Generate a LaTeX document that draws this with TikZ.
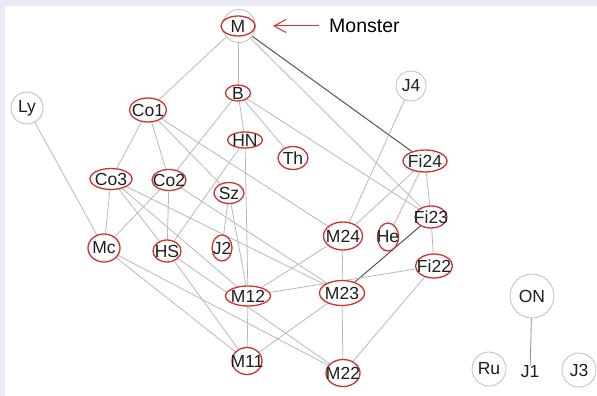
\documentclass[tikz,border=0pt]{standalone}
\usepackage{fontspec}
\setmainfont{Liberation Sans}
\usetikzlibrary{shapes.geometric,arrows.meta}
\definecolor{framebg}{RGB}{232,234,246}
\definecolor{famred}{RGB}{204,51,51}
\definecolor{ringgray}{RGB}{190,190,190}
\definecolor{edgegray}{RGB}{185,185,185}
\definecolor{edgemid}{RGB}{140,140,140}
\definecolor{edgedark}{RGB}{85,85,85}
\definecolor{labeltext}{RGB}{30,30,30}
\pgfdeclarelayer{canvas}
\pgfdeclarelayer{edges}
\pgfsetlayers{canvas,edges,main}
\begin{document}
\begin{tikzpicture}[x=1pt,y=-1pt,
  lbl/.style={font=\fontsize{17.5}{20}\selectfont, text=labeltext, inner sep=0pt},
  fam/.style n args={3}{ellipse, draw=famred, line width=1.3pt, fill=white,
    inner sep=0pt, minimum width=#1pt, minimum height=#2pt,
    label={[lbl]center:#3}},
  pariah/.style={circle, draw=ringgray, line width=0.8pt, fill=white,
    inner sep=0pt, minimum size=#1pt, font=\fontsize{17.5}{20}\selectfont, text=labeltext},
  link/.style={draw=edgegray, line width=0.8pt},
  strong/.style={draw=edgedark, line width=1pt},
]
% canvas with the tinted frame along the top and left
\begin{pgfonlayer}{canvas}
  \fill[framebg] (0,0) rectangle (597,396);
  \fill[white] (5,6) rectangle (597,396);
\end{pgfonlayer}
\useasboundingbox (0,0) rectangle (597,396);

% Monster with its grey ring
\node[pariah=33] (Mring) at (239,26) {};
\node[fam={34}{20}{M}] (M) at (238,26) {};

% happy family
\node[fam={25}{16}{B}]    (B)    at (238,93) {};
\node[fam={37}{24}{Co1}]  (Co1)  at (148,110) {};
\node[fam={35}{16}{HN}]   (HN)   at (245,140) {};
\node[fam={30}{23}{Th}]   (Th)   at (293,158) {};
\node[fam={42}{21}{Co3}]  (Co3)  at (111,179) {};
\node[fam={34}{21}{Co2}]  (Co2)  at (169,180) {};
\node[fam={30}{21}{Sz}]   (Sz)   at (229,193) {};
\node[fam={44}{22}{Fi24}] (Fi24) at (425,161) {};
\node[fam={32}{22}{Fi23}] (Fi23) at (431,217) {};
\node[fam={32}{28}{Mc}]   (Mc)   at (104,248) {};
\node[fam={28}{22}{HS}]   (HS)   at (167,251) {};
\node[fam={20}{26}{J2}]   (J2)   at (222,248) {};
\node[fam={39}{28}{M24}]  (M24)  at (343,236) {};
\node[fam={21}{28}{He}]   (He)   at (388,237) {};
\node[fam={37}{24}{Fi22}] (Fi22) at (434,266) {};
\node[fam={45}{20}{M12}]  (M12)  at (248,296) {};
\node[fam={45}{25}{M23}]  (M23)  at (342,293) {};
\node[fam={30}{27}{M11}]  (M11)  at (247,361) {};
\node[fam={34}{27}{M22}]  (M22)  at (343,373) {};

% pariahs
\node[pariah=32] (Ly) at (27,108) {Ly};
\node[pariah=30] (J4) at (411,86) {J4};
\node[pariah=44] (ON) at (532,296) {ON};
\node[lbl]       (J1) at (530,372) {J1};
\node[pariah=34] (Ru) at (489,369) {Ru};
\node[pariah=34] (J3) at (579,370) {J3};

% callout
\node[anchor=west, inner sep=0pt, font=\fontsize{19.5}{22}\selectfont, text=black]
  (monster) at (329,26) {Monster};
\coordinate (arrowtip) at (273,26);
\draw[famred, line width=1pt, -{Straight Barb[length=12pt,width=13pt]}]
  ([xshift=-10pt]monster.west) -- (arrowtip);

\begin{pgfonlayer}{edges}
  \draw[strong] (M) -- (Fi24);
  \draw[strong] (Fi23) -- (M23);
  \draw[link] (M) -- (Co1);
  \draw[link] (M) -- (B);
  \draw[link] (M) -- (Fi23);
  \draw[link] (B) -- (HN);
  \draw[link] (B) -- (Th);
  \draw[link] (B) -- (Co2);
  \draw[link] (B) -- (Fi23);
  \draw[link] (Co1) -- (Co3);
  \draw[link] (Co1) -- (Co2);
  \draw[link] (Co1) -- (Sz);
  \draw[link] (Co1) -- (M24);
  \draw[link] (Co3) -- (Mc);
  \draw[link] (Co3) -- (HS);
  \draw[link] (Co3) -- (M12);
  \draw[link] (Co3) -- (M23);
  \draw[link] (Co2) -- (Mc);
  \draw[link] (Co2) -- (HS);
  \draw[link] (Co2) -- (M23);
  \draw[link] (HN) -- (HS);
  \draw[link] (HN) -- (M12);
  \draw[link] (Sz) -- (J2);
  \draw[link] (Sz) -- (M12);
  \draw[link] (Ly) -- (Mc);
  \draw[link] (J4) -- (M24);
  \draw[link] (Fi24) -- (M24);
  \draw[link] (Fi24) -- (He);
  \draw[link] (Fi24) -- (Fi23);
  \draw[link] (Fi23) -- (Fi22);
  \draw[link] (Fi22) -- (M12);
  \draw[link] (Fi22) -- (M22);
  \draw[link] (M24) -- (M12);
  \draw[link] (M24) -- (M23);
  \draw[link] (M23) -- (M11);
  \draw[link] (M23) -- (M22);
  \draw[link] (Mc) -- (M11);
  \draw[link] (Mc) -- (M22);
  \draw[link] (HS) -- (M11);
  \draw[link] (HS) -- (M22);
  \draw[link] (M12) -- (M11);
  \draw[link, draw=edgemid] (ON) -- (J1);
\end{pgfonlayer}
\end{tikzpicture}
\end{document}
